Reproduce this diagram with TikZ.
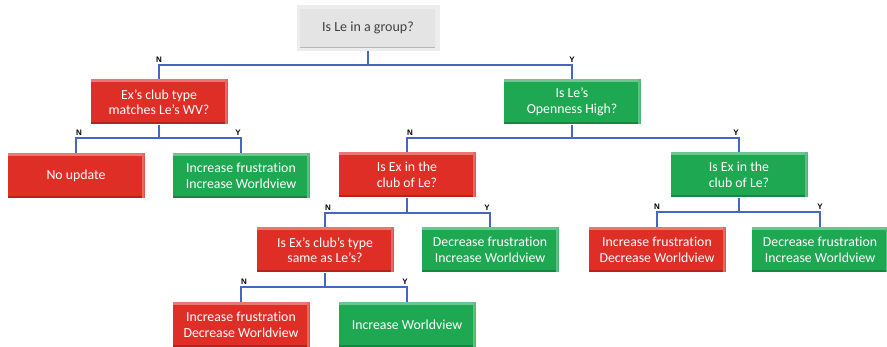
\documentclass[tikz,border=0pt]{standalone}
\usepackage{fontspec}
\setmainfont{Carlito}[Ligatures=NoCommon]
\newfontfamily\lblfont{Liberation Sans}
\definecolor{bred}{RGB}{222,46,38}
\definecolor{bgreen}{RGB}{30,168,82}
\definecolor{bgray}{RGB}{228,228,228}
\definecolor{bline}{RGB}{68,104,192}
\definecolor{rtext}{RGB}{64,64,64}
\tikzset{
  box/.style={minimum width=137pt, minimum height=45pt, inner sep=2pt, align=center,
    text=white, font=\fontsize{13.8}{15.5}\selectfont},
  bevel/.style={path picture={
      \fill[#1!65!white] (path picture bounding box.north west) rectangle ([yshift=-2.2pt]path picture bounding box.north east);
      \fill[#1!72!white] ([xshift=-3pt]path picture bounding box.north east) rectangle (path picture bounding box.south east);
      \fill[#1!80!black] (path picture bounding box.south west) rectangle ([xshift=-3pt,yshift=2pt]path picture bounding box.south east);
    }},
  redbox/.style={box, fill=bred, bevel=bred},
  greenbox/.style={box, fill=bgreen, bevel=bgreen},
  graybox/.style={box, fill=bgray, text=rtext, minimum width=140pt, minimum height=43pt,
    font=\fontsize{14}{16}\selectfont, bevel=bgray, draw=white!93!black, line width=3pt},
  conn/.style={draw=bline, line width=1.8pt},
  lbl/.style={font=\lblfont\bfseries\fontsize{8}{9}\selectfont, anchor=south, inner sep=0.5pt}
}
\begin{document}
\begin{tikzpicture}[x=1pt,y=-1pt]
\useasboundingbox (0,0) rectangle (887,347);
% nodes
\node[graybox] (root) at (368,28) {Is Le in a group?};
\node[redbox] (ex) at (159,102) {Ex's club type\\matches Le's WV?};
\node[greenbox] (open) at (572,102) {Is Le's\\Openness High?};
\node[redbox] (noupd) at (76,176) {No update};
\node[greenbox] (incA) at (241,176) {Increase frustration\\Increase Worldview};
\node[redbox] (inRed) at (407,175) {Is Ex in the\\club of Le?};
\node[greenbox] (inGreen) at (739,175) {Is Ex in the\\club of Le?};
\node[redbox] (same) at (325,250) {Is Ex's club's type\\same as Le's?};
\node[greenbox] (decMid) at (490,250) {Decrease frustration\\Increase Worldview};
\node[redbox] (incDecR) at (657,250) {Increase frustration\\Decrease Worldview};
\node[greenbox] (decR) at (820,250) {Decrease frustration\\Increase Worldview};
\node[redbox] (incDecB) at (241,325) {Increase frustration\\Decrease Worldview};
\node[greenbox] (incW) at (407,325) {Increase Worldview};
% bus coordinates
\coordinate (b0) at (368,65);
\coordinate (b1) at (159,138);
\coordinate (b2) at (572,138);
\coordinate (b3) at (407,213);
\coordinate (b4) at (739,212);
\coordinate (b5) at (325,287);
% connectors
\draw[conn] (root.south) -- (b0) -| (ex.north);
\draw[conn] (b0) -| (open.north);
\draw[conn] (ex.south) -- (b1) -| (noupd.north);
\draw[conn] (b1) -| (incA.north);
\draw[conn] (open.south) -- (b2) -| (inRed.north);
\draw[conn] (b2) -| (inGreen.north);
\draw[conn] (inRed.south) -- (b3) -| (same.north);
\draw[conn] (b3) -| (decMid.north);
\draw[conn] (inGreen.south) -- (b4) -| (incDecR.north);
\draw[conn] (b4) -| (decR.north);
\draw[conn] (same.south) -- (b5) -| (incDecB.north);
\draw[conn] (b5) -| (incW.north);
% labels
\node[lbl] (l0n) at (ex.north |- 0,63) {N};
\node[lbl] (l0y) at (open.north |- 0,63) {Y};
\node[lbl] (l1n) at ([xshift=3pt]noupd.north |- 0,136) {N};
\node[lbl] (l1y) at ([xshift=-3pt]incA.north |- 0,136) {Y};
\node[lbl] (l2n) at ([xshift=3pt]inRed.north |- 0,136) {N};
\node[lbl] (l2y) at ([xshift=-3pt]inGreen.north |- 0,136) {Y};
\node[lbl] (l3n) at ([xshift=3pt]same.north |- 0,211) {N};
\node[lbl] (l3y) at ([xshift=-3pt]decMid.north |- 0,211) {Y};
\node[lbl] (l4n) at (incDecR.north |- 0,210) {N};
\node[lbl] (l4y) at (decR.north |- 0,210) {Y};
\node[lbl] (l5n) at ([xshift=3pt]incDecB.north |- 0,285) {N};
\node[lbl] (l5y) at ([xshift=-2pt]incW.north |- 0,285) {Y};
\end{tikzpicture}
\end{document}
